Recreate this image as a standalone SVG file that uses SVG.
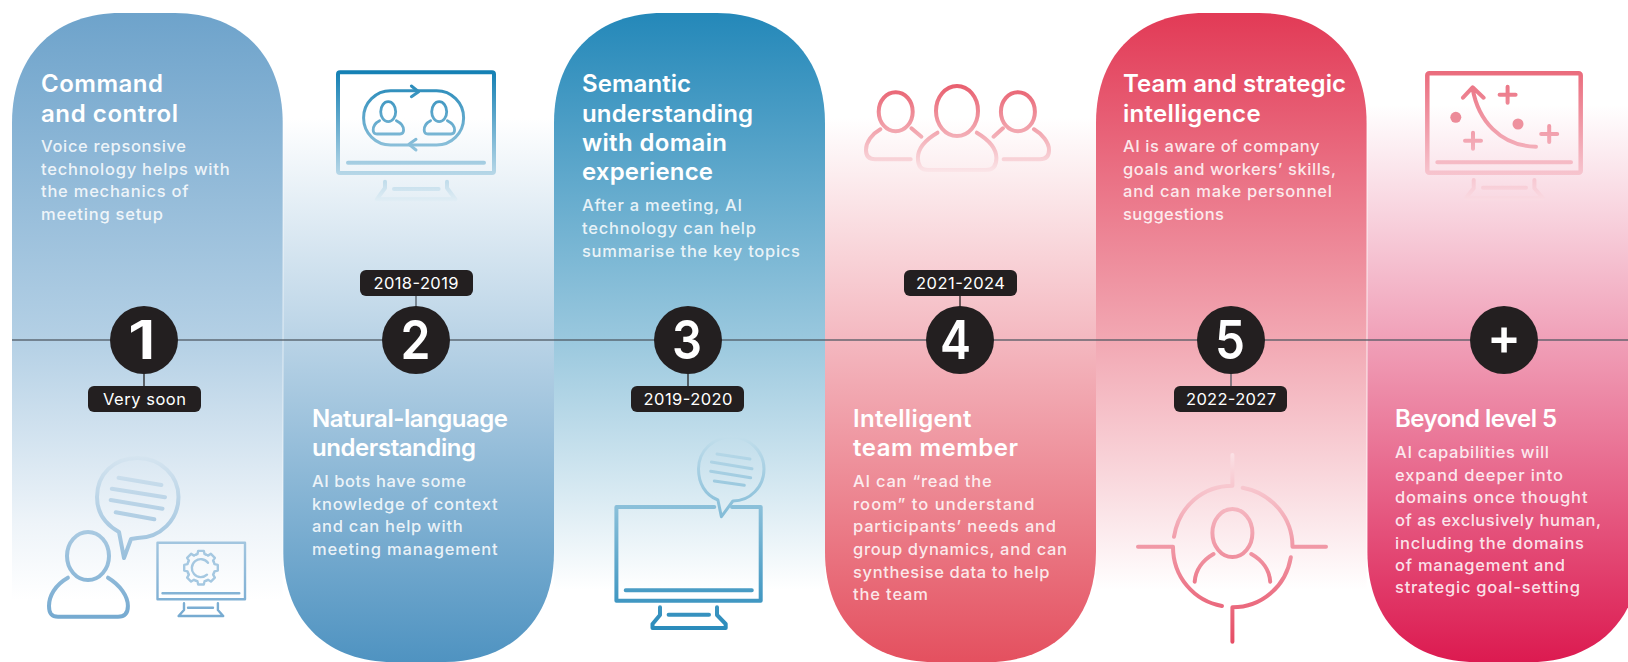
<svg xmlns="http://www.w3.org/2000/svg" width="1628" height="662" viewBox="0 0 1628 662">
<style>
text{font-family:"Inter","Liberation Sans",sans-serif}
.t{font-size:24px;font-weight:600;fill:#fff}
.b{font-size:16.5px;font-weight:500;fill:#fff;fill-opacity:.86}
.tag{fill:#231f20}
.l{font-size:16.5px;fill:#fff;text-anchor:middle}
.n{fill:#231f20}
.d{font-size:53px;font-weight:600;fill:#fff}
.s{fill:none;stroke-width:4;stroke-linecap:round;stroke-linejoin:round}
.st{fill:none;stroke-width:1.3}
</style>
<defs>
<linearGradient id="p1" gradientUnits="userSpaceOnUse" x1="0" y1="13" x2="0" y2="600"><stop offset="0" stop-color="#6ea3cb"/><stop offset=".557" stop-color="#b4d0e5"/><stop offset=".87" stop-color="#eef4f9"/><stop offset="1" stop-color="#fff"/></linearGradient>
<linearGradient id="p2" gradientUnits="userSpaceOnUse" x1="0" y1="118" x2="0" y2="662"><stop offset="0" stop-color="#fff"/><stop offset=".408" stop-color="#b9d3e6"/><stop offset="1" stop-color="#4f93c1"/></linearGradient>
<linearGradient id="p3" gradientUnits="userSpaceOnUse" x1="0" y1="13" x2="0" y2="590"><stop offset="0" stop-color="#2488b9"/><stop offset=".567" stop-color="#9ac8de"/><stop offset="1" stop-color="#fff"/></linearGradient>
<linearGradient id="p4" gradientUnits="userSpaceOnUse" x1="0" y1="118" x2="0" y2="662"><stop offset="0" stop-color="#fff"/><stop offset=".408" stop-color="#f4b8c0"/><stop offset="1" stop-color="#e4505f"/></linearGradient>
<linearGradient id="p5" gradientUnits="userSpaceOnUse" x1="0" y1="13" x2="0" y2="590"><stop offset="0" stop-color="#e23a56"/><stop offset=".567" stop-color="#f2a8b3"/><stop offset="1" stop-color="#fff"/></linearGradient>
<linearGradient id="p6" gradientUnits="userSpaceOnUse" x1="0" y1="105" x2="0" y2="662"><stop offset="0" stop-color="#fff"/><stop offset=".422" stop-color="#f0a0b8"/><stop offset="1" stop-color="#dc1a50"/></linearGradient>
<linearGradient id="i1" gradientUnits="userSpaceOnUse" x1="0" y1="455" x2="0" y2="620"><stop offset="0" stop-color="#d6e5f0"/><stop offset="1" stop-color="#74a9d0"/></linearGradient>
<linearGradient id="i2" gradientUnits="userSpaceOnUse" x1="0" y1="70" x2="0" y2="203"><stop offset="0" stop-color="#127fb3"/><stop offset="1" stop-color="#e4eff6"/></linearGradient>
<linearGradient id="i3" gradientUnits="userSpaceOnUse" x1="0" y1="436" x2="0" y2="630"><stop offset="0" stop-color="#c2deeb"/><stop offset="1" stop-color="#2a8bbb"/></linearGradient>
<linearGradient id="i4" gradientUnits="userSpaceOnUse" x1="0" y1="84" x2="0" y2="172"><stop offset="0" stop-color="#e85d6d"/><stop offset="1" stop-color="#fbe6e9"/></linearGradient>
<linearGradient id="i5" gradientUnits="userSpaceOnUse" x1="0" y1="452" x2="0" y2="644"><stop offset="0" stop-color="#fbe2e6"/><stop offset="1" stop-color="#e64c64"/></linearGradient>
<linearGradient id="i6" gradientUnits="userSpaceOnUse" x1="0" y1="71" x2="0" y2="202"><stop offset="0" stop-color="#ea6b7c"/><stop offset="1" stop-color="#fadce4"/></linearGradient>
<path id="tooth" d="M-5.36-12.93A14 14 0 0 1-3.6-13.5L-2.8-16.8H2.8L3.6-13.5A14 14 0 0 1 5.36-12.93"/>
</defs>
<rect width="1628" height="662" fill="#fff"/>
<g id="bands">
<path fill="url(#p1)" d="M12 662V123C12 50 60 13 120 13H175C235 13 282.700 50 282.700 123V662Z"/>
<path fill="url(#p2)" d="M283.300 105H554V552C554 625 505 662 445 662H392C332 662 283.300 625 283.300 552Z"/>
<path fill="url(#p3)" d="M554 662V123C554 50 602 13 662 13H717C777 13 825 50 825 123V662Z"/>
<path fill="url(#p4)" d="M825 105H1096V552C1096 625 1048 662 988 662H933C873 662 825 625 825 552Z"/>
<path fill="url(#p5)" d="M1096 662V123C1096 50 1144 13 1204 13H1259C1319 13 1366.600 50 1366.600 123V662Z"/>
<path fill="url(#p6)" d="M1367.400 105H1640V552C1640 625 1590 662 1530 662H1475C1415 662 1367.400 625 1367.400 552Z"/>
</g>
<g id="connectors" fill="none" stroke="#4e5760">
<line x1="12" y1="340" x2="1628" y2="340" stroke-width="1.4" stroke-opacity=".85"/>
<line class="st" x1="144" y1="372" x2="144" y2="387" stroke="#231f20"/>
<line class="st" x1="416" y1="295" x2="416" y2="308"/>
<line class="st" x1="688" y1="372" x2="688" y2="387" stroke="#231f20"/>
<line class="st" x1="960" y1="295" x2="960" y2="308" stroke="#231f20"/>
<line class="st" x1="1231" y1="372" x2="1231" y2="387"/>
</g>
<g id="node-1">
<text class="t" x="41" y="92" textLength="122">Command</text><text class="t" x="41" y="122" textLength="137">and control</text>
<text class="b" x="41" y="152" textLength="145">Voice repsonsive</text><text class="b" x="41" y="175" textLength="188.600">technology helps with</text><text class="b" x="41" y="197" textLength="147.500">the mechanics of</text><text class="b" x="41" y="220" textLength="122">meeting setup</text>
<circle class="n" cx="144" cy="340" r="34"/><text class="d" x="128" y="359" textLength="28" lengthAdjust="spacingAndGlyphs">1</text>
<rect class="tag" x="88" y="386" width="113" height="26" rx="6"/><text class="l" x="144.500" y="405" textLength="83">Very soon</text>
<g class="s" stroke="url(#i1)" stroke-width="3">
<path d="M119 532C103 523 97 510 97 497C97 474 114 458 137.500 458C161 458 178.500 476 178.500 497C178.500 520 160 538 137.500 538L131 539L124 558L119 532Z"/>
<path d="M118.600 477.700L161.400 485M111.800 488.700L165 497.300M110.700 500L162.500 508.700M115.700 512.300L154.300 519.300"/>
<ellipse cx="88" cy="556" rx="21" ry="24"/>
<path d="M67.900 577.700C55 585 49 596 49 606C49 613 51 616.700 58 616.700H118C125 616.700 127.900 613 127.900 606C127.900 596 120 585 108 577.700"/>
<rect x="157.500" y="542.700" width="87.500" height="56.600" stroke-width="2.400"/>
<path stroke-width="2.400" d="M162.500 593.300H239.300M184 603.300V610L178.600 616H223.200L217.900 610V603.300M188 607.700H213"/>
</g>
<g fill="none" stroke="#a5c8e1" stroke-width="2.400" stroke-linecap="round" stroke-linejoin="round" transform="translate(201 567.700)">
<use href="#tooth"/><use href="#tooth" transform="rotate(45)"/><use href="#tooth" transform="rotate(90)"/><use href="#tooth" transform="rotate(135)"/><use href="#tooth" transform="rotate(180)"/><use href="#tooth" transform="rotate(225)"/><use href="#tooth" transform="rotate(270)"/><use href="#tooth" transform="rotate(315)"/>
<path d="M7 -5A9 9 0 1 0 6 7"/>
</g>
</g>
<g id="node-2">
<text class="t" x="312" y="427" textLength="196">Natural-language</text><text class="t" x="312" y="456" textLength="164">understanding</text>
<text class="b" x="312" y="487" textLength="154">AI bots have some</text><text class="b" x="312" y="510" textLength="185.700">knowledge of context</text><text class="b" x="312" y="532" textLength="150.700">and can help with</text><text class="b" x="312" y="555" textLength="185.700">meeting management</text>
<circle class="n" cx="416" cy="340" r="34"/><text class="d" x="400.500" y="359" textLength="30" lengthAdjust="spacingAndGlyphs">2</text>
<rect class="tag" x="360" y="270" width="113" height="26" rx="6"/><text class="l" x="416" y="289" textLength="85">2018-2019</text>
<g class="s" stroke="url(#i2)">
<rect x="338" y="72.300" width="156" height="100.700" rx="2"/>
<path d="M348 162.700H484M385 181.700V188L376.800 199.300H455.400L447 188V181.700M394 189H438.600"/>
<rect x="363.600" y="90.700" width="100" height="54.300" rx="27" stroke-width="3"/>
<path stroke-width="3" d="M411.400 86L418.600 91.700L411.400 96.700M416 139.300L409 144.300L416 150"/>
<g stroke-width="2.800"><ellipse cx="388.200" cy="111.700" rx="7.500" ry="10"/><path d="M379.600 120.700C375 123 373.200 127 373.200 130C373.200 133 375 134 377 134H400C402 134 403.600 133 403.600 130C403.600 127 401 123 396.400 120.700"/><ellipse cx="439.200" cy="111.700" rx="7.500" ry="10"/><path d="M430.600 120.700C426 123 424.200 127 424.200 130C424.200 133 426 134 428 134H451C453 134 454.600 133 454.600 130C454.600 127 452 123 447.400 120.700"/></g>
</g>
</g>
<g id="node-3">
<text class="t" x="582" y="92" textLength="109">Semantic</text><text class="t" x="582" y="122" textLength="171">understanding</text><text class="t" x="582" y="151" textLength="145">with domain</text><text class="t" x="582" y="180" textLength="131">experience</text>
<text class="b" x="582" y="211" textLength="160">After a meeting, AI</text><text class="b" x="582" y="234" textLength="174">technology can help</text><text class="b" x="582" y="257" textLength="218">summarise the key topics</text>
<circle class="n" cx="688" cy="340" r="34"/><text class="d" x="672" y="359" textLength="30" lengthAdjust="spacingAndGlyphs">3</text>
<rect class="tag" x="631" y="386" width="113" height="26" rx="6"/><text class="l" x="688" y="405" textLength="89">2019-2020</text>
<g class="s" stroke="url(#i3)">
<path d="M714.300 507H616.400V600.700H760.700V507H732"/>
<path d="M625.700 590.300H751.800M660 607.300V615L652.500 624V628H725.700V624L717 615V607.300M668.600 614.700H709"/>
<path stroke-width="3" d="M717.900 500C705 495 698.500 483 698.500 469C698.500 451 713 437 731.400 437C750 437 764 452 764 469C764 487 750 501 732.900 501L721.400 516.700Z"/>
<path stroke-width="3" d="M717 454L750 459M711.400 462L752 468.700M710.700 471.300L750.700 477.700M714.300 481L744.300 485.300"/>
</g>
</g>
<g id="node-4">
<text class="t" x="853" y="427" textLength="118.600">Intelligent</text><text class="t" x="853" y="456" textLength="165">team member</text>
<text class="b" x="853" y="487" textLength="138.600">AI can “read the</text><text class="b" x="853" y="510" textLength="181.400">room” to understand</text><text class="b" x="853" y="532" textLength="203">participants’ needs and</text><text class="b" x="853" y="555" textLength="214">group dynamics, and can</text><text class="b" x="853" y="578" textLength="196.400">synthesise data to help</text><text class="b" x="853" y="600" textLength="75">the team</text>
<circle class="n" cx="960" cy="340" r="34"/><text class="d" x="940" y="359" textLength="31" lengthAdjust="spacingAndGlyphs">4</text>
<rect class="tag" x="904" y="270" width="113" height="26" rx="6"/><text class="l" x="960.500" y="289" textLength="89">2021-2024</text>
<g class="s" stroke="url(#i4)">
<ellipse cx="957" cy="111" rx="21" ry="25"/>
<path d="M937.500 132.700C925 140 917.900 148 917.900 158C917.900 166 921 170 928 170H986C993 170 996.400 166 996.400 158C996.400 148 989 140 976.800 132.700"/>
<ellipse cx="895.700" cy="111.700" rx="17" ry="19.500"/>
<path d="M880.400 129.300C872 134 866 142 866 150C866 156 869 159.300 875 159.300H910.700M911.400 128.300L921.400 136.700"/>
<ellipse cx="1017.900" cy="111.700" rx="17" ry="19.500"/>
<path d="M1034 129.300C1042 134 1049 142 1049 150C1049 156 1046 159.300 1040 159.300H1003.600M1002.900 128.300L993.600 136.700"/>
</g>
</g>
<g id="node-5">
<text class="t" x="1123" y="92" textLength="223">Team and strategic</text><text class="t" x="1123" y="122" textLength="137.600">intelligence</text>
<text class="b" x="1123" y="152" textLength="196.600">AI is aware of company</text><text class="b" x="1123" y="175" textLength="213">goals and workers’ skills,</text><text class="b" x="1123" y="197" textLength="209">and can make personnel</text><text class="b" x="1123" y="220" textLength="101">suggestions</text>
<circle class="n" cx="1231" cy="340" r="34"/><text class="d" x="1215" y="359" textLength="30" lengthAdjust="spacingAndGlyphs">5</text>
<rect class="tag" x="1174" y="386" width="113" height="26" rx="6"/><text class="l" x="1231" y="405" textLength="90">2022-2027</text>
<g class="s" stroke="url(#i5)">
<path d="M1174 536.700C1179 506 1203 485.700 1232.400 485.700V455"/>
<path d="M1242.700 487.700C1271 493 1292.500 517 1292.500 546.700H1326"/>
<path d="M1290.800 557.300C1286 586 1262 607.300 1232.400 607.300V641.700"/>
<path d="M1222 606C1194 601 1173 577 1173 546.700H1138"/>
<ellipse cx="1232.400" cy="533" rx="20" ry="24"/>
<path d="M1213.500 554C1203 560 1195.500 570 1194.700 581.700M1251.300 554C1262 560 1269.500 570 1270.200 581.700"/>
</g>
</g>
<g id="node-6">
<text class="t" x="1395" y="427" textLength="162">Beyond level 5</text>
<text class="b" x="1395" y="458" textLength="154">AI capabilities will</text><text class="b" x="1395" y="481" textLength="168">expand deeper into</text><text class="b" x="1395" y="503" textLength="192.500">domains once thought</text><text class="b" x="1395" y="526" textLength="206">of as exclusively human,</text><text class="b" x="1395" y="549" textLength="189">including the domains</text><text class="b" x="1395" y="571" textLength="170">of management and</text><text class="b" x="1395" y="593" textLength="185">strategic goal-setting</text>
<circle class="n" cx="1504" cy="340" r="34"/><rect x="1491.500" y="337.500" width="25" height="5.500" fill="#fff"/><rect x="1501.300" y="327.500" width="5.500" height="25" fill="#fff"/>
<g class="s" stroke="url(#i6)">
<rect x="1427.300" y="73.300" width="153.400" height="99.400" rx="2" stroke-width="4.500"/>
<path d="M1437.300 162.300H1571M1473.700 180V188.300L1465.800 198.300H1543L1534.400 188.300V180M1483 187.700H1526"/>
<path d="M1536 146.700C1500 146 1478 120 1472.600 88.300M1463 97.700L1472.600 87.300L1483.600 97.700"/>
<path d="M1507.600 86.700V102.700M1499.600 94.700H1515.600M1549.200 126V142M1541.200 134H1557.200M1473 132.700V148.700M1465 140.700H1481"/>
</g>
<circle cx="1455.800" cy="117.300" r="5.500" fill="#ec8b99"/><circle cx="1518" cy="124" r="5.500" fill="#ee919e"/>
</g>
</svg>
